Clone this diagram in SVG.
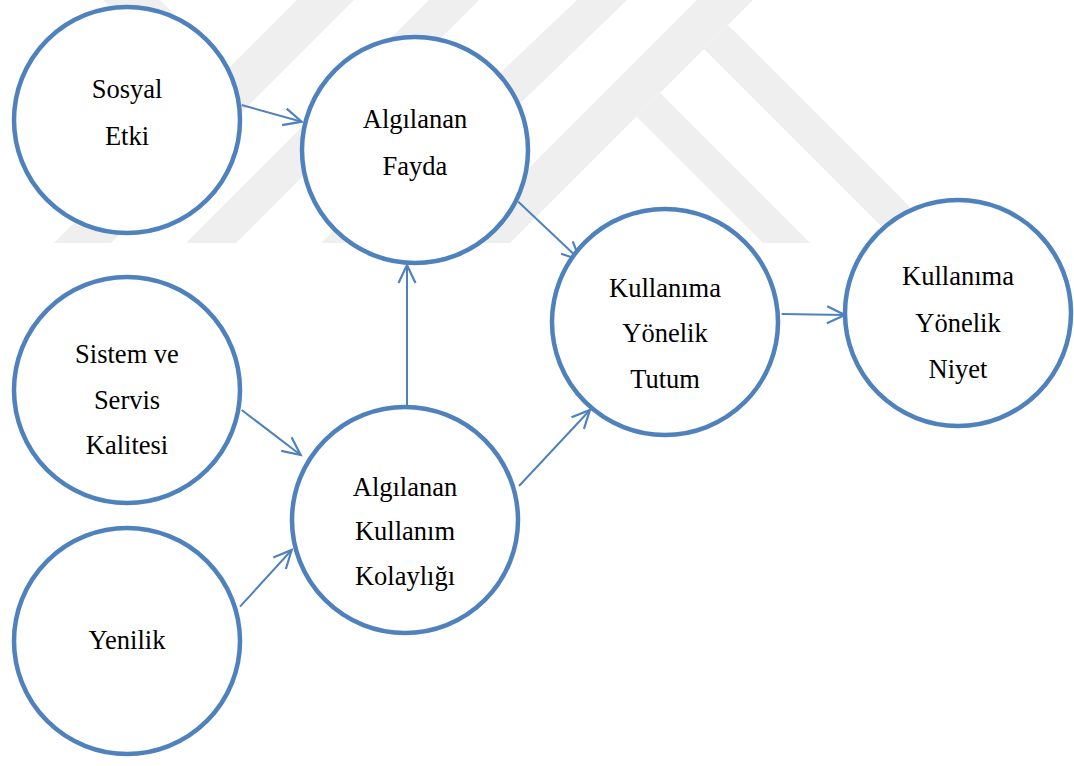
<svg xmlns="http://www.w3.org/2000/svg" width="1074" height="766" viewBox="0 0 1074 766">
<style>
.node circle{fill:#ffffff;stroke:#4f81bd;stroke-width:4.5}
.node text{font-family:'Liberation Serif','Times New Roman',serif;font-size:26.5px;fill:#000000;text-anchor:middle}
.wm{fill:#efefef}
#connectors line{stroke:#4f81bd;stroke-width:2;marker-end:url(#arr)}
</style>
<defs>
<marker id="arr" markerUnits="userSpaceOnUse" markerWidth="26" markerHeight="26" viewBox="-22 -13 26 26" refX="0" refY="0" orient="auto">
<path d="M-18,-8.5 L0,0 L-18,8.5" fill="none" stroke="#4f81bd" stroke-width="2.2" stroke-linejoin="miter"/>
</marker>
</defs>
<rect width="1074" height="766" fill="#ffffff"/>
<g id="watermark">
<polygon class="wm" points="54,243 111,243 354,0 297,0"/>
<polygon class="wm" points="186,243 236,243 479,0 429,0"/>
<polygon class="wm" points="321,243 376,243 627,0 577,0"/>
<polygon class="wm" points="454,243 510,243 753,0 697,0"/>
<polygon class="wm" points="103,0 160,0 228.5,68.5 200,97"/>
<polygon class="wm" points="728,25 946,243 898,243 704,49"/>
<polygon class="wm" points="660,93 810,243 763,243 636.5,116.5"/>
</g>
<g id="connectors">
<line x1="241.7" y1="105" x2="301.7" y2="121.7"/>
<line x1="518.3" y1="201.7" x2="580" y2="260"/>
<line x1="407" y1="406" x2="407" y2="265"/>
<line x1="781.7" y1="314" x2="845" y2="315"/>
<line x1="241.7" y1="410" x2="300.7" y2="455"/>
<line x1="240" y1="606.7" x2="291.7" y2="550"/>
<line x1="519" y1="486" x2="590" y2="410"/>
</g>
<g id="n-sosyal" class="node">
<circle cx="127" cy="120" r="113"/>
<text x="127" y="98">Sosyal</text>
<text x="127" y="145">Etki</text>
</g>
<g id="n-fayda" class="node">
<circle cx="415" cy="150" r="113"/>
<text x="415" y="128">Algılanan</text>
<text x="415" y="175">Fayda</text>
</g>
<g id="n-sistem" class="node">
<circle cx="127" cy="390" r="113"/>
<text x="127" y="363">Sistem ve</text>
<text x="127" y="409">Servis</text>
<text x="127" y="454">Kalitesi</text>
</g>
<g id="n-kolaylik" class="node">
<circle cx="405" cy="520" r="113"/>
<text x="405" y="496">Algılanan</text>
<text x="405" y="540">Kullanım</text>
<text x="405" y="585">Kolaylığı</text>
</g>
<g id="n-tutum" class="node">
<circle cx="665" cy="322" r="113"/>
<text x="665" y="297">Kullanıma</text>
<text x="665" y="342">Yönelik</text>
<text x="665" y="388">Tutum</text>
</g>
<g id="n-niyet" class="node">
<circle cx="958" cy="313" r="113"/>
<text x="958" y="285">Kullanıma</text>
<text x="958" y="332">Yönelik</text>
<text x="958" y="378">Niyet</text>
</g>
<g id="n-yenilik" class="node">
<circle cx="127" cy="641" r="113"/>
<text x="127" y="649">Yenilik</text>
</g>
</svg>
